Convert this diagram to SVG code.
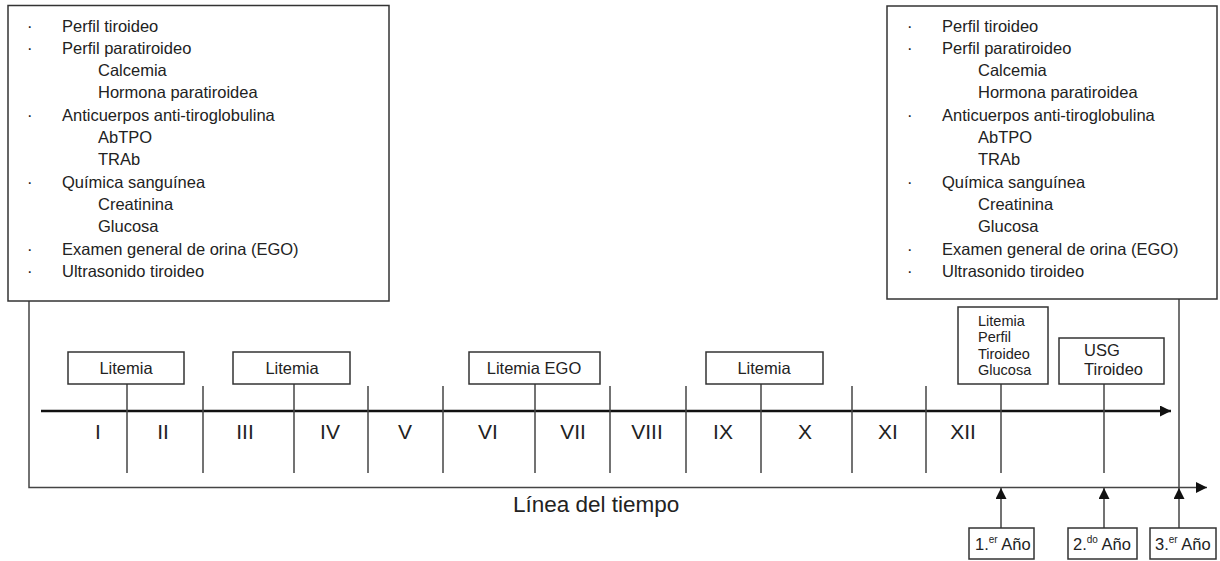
<svg xmlns="http://www.w3.org/2000/svg" width="1220" height="561" viewBox="0 0 1220 561">
<style>
text{font-family:"Liberation Sans",Arial,sans-serif;fill:#222}
.box{fill:#fff;stroke:#333;stroke-width:1.5}
.ln{stroke:#444;stroke-width:1.5;fill:none}
.t16{font-size:16.5px}
.t15{font-size:14.5px}
.rn{font-size:21px;text-anchor:middle}
.c{text-anchor:middle}
.sup{font-size:10px}
</style>
<defs>
<marker id="ah" markerWidth="12" markerHeight="12" refX="11" refY="5.5" orient="auto" markerUnits="userSpaceOnUse">
<path d="M0,0 L11,5.5 L0,11 Z" fill="#111"/>
</marker>
</defs>
<rect width="1220" height="561" fill="#fff"/>

<g id="connectors">
<line x1="41" y1="411" x2="1171" y2="411" stroke="#111" stroke-width="2.5" marker-end="url(#ah)"/>
<polyline class="ln" points="29,301 29,487.5 1207,487.5" marker-end="url(#ah)"/>
<line class="ln" x1="1179" y1="299" x2="1179" y2="487.5"/>
<line class="ln" x1="127" y1="384" x2="127" y2="473"/>
<line class="ln" x1="203" y1="386" x2="203" y2="473"/>
<line class="ln" x1="294" y1="384" x2="294" y2="473"/>
<line class="ln" x1="368" y1="386" x2="368" y2="473"/>
<line class="ln" x1="443" y1="386" x2="443" y2="473"/>
<line class="ln" x1="535" y1="384" x2="535" y2="473"/>
<line class="ln" x1="610" y1="386" x2="610" y2="473"/>
<line class="ln" x1="686" y1="386" x2="686" y2="473"/>
<line class="ln" x1="761" y1="384" x2="761" y2="473"/>
<line class="ln" x1="852" y1="386" x2="852" y2="473"/>
<line class="ln" x1="926" y1="386" x2="926" y2="473"/>
<line class="ln" x1="1001" y1="384" x2="1001" y2="473"/>
<line class="ln" x1="1104" y1="384" x2="1104" y2="473"/>
<line class="ln" x1="1001" y1="528" x2="1001" y2="488" marker-end="url(#ah)"/>
<line class="ln" x1="1104" y1="528" x2="1104" y2="488" marker-end="url(#ah)"/>
<line class="ln" x1="1179" y1="528" x2="1179" y2="488" marker-end="url(#ah)"/>
</g>

<g id="box-left">
<rect class="box" x="8" y="5.5" width="381" height="295.5"/>
<g class="t16">
<text x="27" y="31.5">·</text><text x="62" y="31.5">Perfil tiroideo</text>
<text x="27" y="53.8">·</text><text x="62" y="53.8">Perfil paratiroideo</text>
<text x="98" y="76.1">Calcemia</text>
<text x="98" y="98.4">Hormona paratiroidea</text>
<text x="27" y="120.7">·</text><text x="62" y="120.7">Anticuerpos anti-tiroglobulina</text>
<text x="98" y="143">AbTPO</text>
<text x="98" y="165.3">TRAb</text>
<text x="27" y="187.6">·</text><text x="62" y="187.6">Química sanguínea</text>
<text x="98" y="209.9">Creatinina</text>
<text x="98" y="232.2">Glucosa</text>
<text x="27" y="254.5">·</text><text x="62" y="254.5">Examen general de orina (EGO)</text>
<text x="27" y="276.8">·</text><text x="62" y="276.8">Ultrasonido tiroideo</text>
</g>
</g>

<g id="box-right">
<rect class="box" x="887" y="6" width="330" height="293"/>
<g class="t16">
<text x="907" y="31.5">·</text><text x="942" y="31.5">Perfil tiroideo</text>
<text x="907" y="53.8">·</text><text x="942" y="53.8">Perfil paratiroideo</text>
<text x="978" y="76.1">Calcemia</text>
<text x="978" y="98.4">Hormona paratiroidea</text>
<text x="907" y="120.7">·</text><text x="942" y="120.7">Anticuerpos anti-tiroglobulina</text>
<text x="978" y="143">AbTPO</text>
<text x="978" y="165.3">TRAb</text>
<text x="907" y="187.6">·</text><text x="942" y="187.6">Química sanguínea</text>
<text x="978" y="209.9">Creatinina</text>
<text x="978" y="232.2">Glucosa</text>
<text x="907" y="254.5">·</text><text x="942" y="254.5">Examen general de orina (EGO)</text>
<text x="907" y="276.8">·</text><text x="942" y="276.8">Ultrasonido tiroideo</text>
</g>
</g>

<g id="litemia-1"><rect class="box" x="68" y="352" width="116" height="32"/><text class="t16 c" x="126" y="374">Litemia</text></g>
<g id="litemia-2"><rect class="box" x="233" y="352" width="117" height="32"/><text class="t16 c" x="292" y="374">Litemia</text></g>
<g id="litemia-ego"><rect class="box" x="469" y="352" width="131" height="32"/><text class="t16 c" x="534" y="374">Litemia EGO</text></g>
<g id="litemia-3"><rect class="box" x="706" y="352" width="117" height="32"/><text class="t16 c" x="764" y="374">Litemia</text></g>
<g id="litemia-perfil">
<rect class="box" x="958" y="307" width="90" height="77"/>
<g class="t15"><text x="978" y="325.5">Litemia</text><text x="978" y="342">Perfil</text><text x="978" y="358.5">Tiroideo</text><text x="978" y="375">Glucosa</text></g>
</g>
<g id="usg"><rect class="box" x="1059" y="338" width="105" height="46"/>
<g class="t16"><text x="1084" y="356">USG</text><text x="1084" y="375">Tiroideo</text></g></g>

<g id="numerals" class="rn">
<text x="98" y="439">I</text><text x="163" y="439">II</text><text x="245" y="439">III</text><text x="330" y="439">IV</text><text x="405" y="439">V</text>
<text x="488" y="439">VI</text><text x="573" y="439">VII</text><text x="647" y="439">VIII</text><text x="723" y="439">IX</text><text x="805" y="439">X</text>
<text x="888" y="439">XI</text><text x="963" y="439">XII</text>
</g>

<g id="linea"><text x="513" y="512" style="font-size:22.5px">Línea del tiempo</text></g>

<g id="ano-1"><rect class="box" x="969" y="528" width="65" height="31"/><text x="975" y="550" class="t16">1.<tspan class="sup" dy="-7">er</tspan><tspan dy="7"> Año</tspan></text></g>
<g id="ano-2"><rect class="box" x="1068" y="528" width="69" height="31"/><text x="1073" y="550" class="t16">2.<tspan class="sup" dy="-7">do</tspan><tspan dy="7"> Año</tspan></text></g>
<g id="ano-3"><rect class="box" x="1150" y="528" width="66" height="31"/><text x="1155" y="550" class="t16">3.<tspan class="sup" dy="-7">er</tspan><tspan dy="7"> Año</tspan></text></g>
</svg>
